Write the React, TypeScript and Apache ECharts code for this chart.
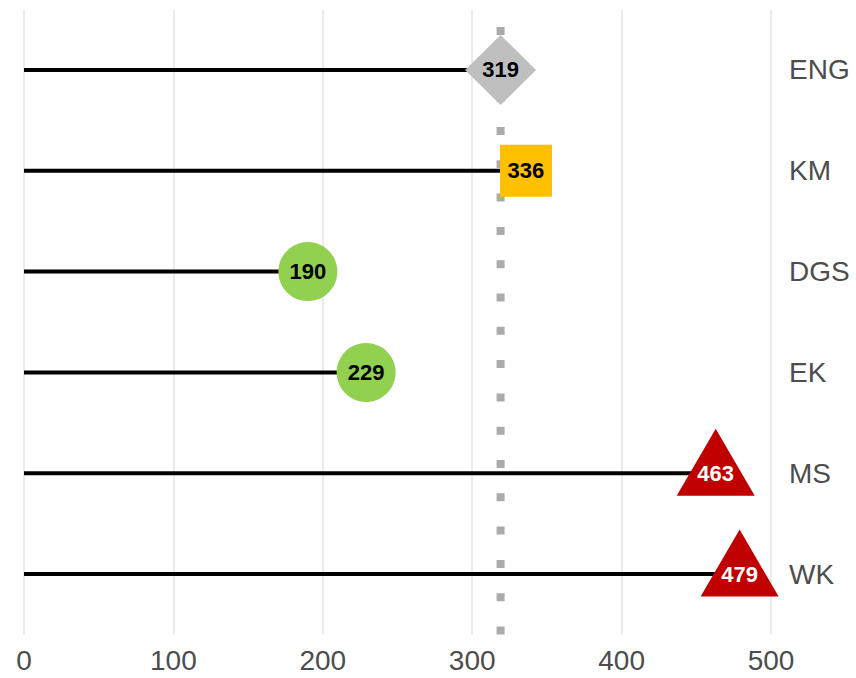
import React, { useEffect, useRef } from "react";
import * as echarts from "echarts";

const categories = ["ENG", "KM", "DGS", "EK", "MS", "WK"];
const values = [319, 336, 190, 229, 463, 479];
const referenceValue = 319;
const xTicks = [0, 100, 200, 300, 400, 500];

// styling per category (not data)
const shapes = ["diamond", "rect", "circle", "circle", "triangle", "triangle"];
const fills = ["#bfbfbf", "#ffc000", "#92d050", "#92d050", "#c00000", "#c00000"];
const labelColors = ["#000000", "#000000", "#000000", "#000000", "#ffffff", "#ffffff"];

const FONT = "'Liberation Sans', Arial, sans-serif";

function symbolSizeFor(shape: string): number | number[] {
  if (shape === "diamond") return [71, 70];
  if (shape === "rect") return [52, 52];
  if (shape === "circle") return 59;
  return [78, 67];
}

export default function App() {
  const ref = useRef<HTMLDivElement>(null);
  useEffect(() => {
    if (!ref.current) return;
    const chart = echarts.init(ref.current, null, { renderer: "svg" });
    const yMin = -0.6;
    const yMax = categories.length - 1 + 0.6;
    const pts = values.map((v, i) => [v, i]);
    chart.setOption({
      animation: false,
      backgroundColor: "#ffffff",
      grid: { left: 24, right: 85, top: 9.5, height: 625, containLabel: false },
      xAxis: {
        type: "value",
        min: xTicks[0],
        max: xTicks[xTicks.length - 1],
        interval: 100,
        axisLine: { show: false },
        axisTick: { show: false },
        axisLabel: { color: "#4d4d4d", fontSize: 28, fontFamily: FONT, margin: 12 },
        splitLine: { show: true, lineStyle: { color: "#ebebeb", width: 2 } },
      },
      yAxis: {
        type: "value",
        inverse: true,
        min: yMin,
        max: yMax,
        position: "right",
        axisLine: { show: false },
        axisTick: { show: false },
        splitLine: { show: false },
        axisLabel: {
          customValues: categories.map((_, i) => i),
          formatter: (v: number) => categories[Math.round(v)] ?? "",
          color: "#4d4d4d",
          fontSize: 28,
          fontFamily: FONT,
          margin: 18,
        },
      },
      series: [
        {
          type: "custom",
          z: 2,
          encode: { x: 0, y: 1 },
          data: pts,
          renderItem: (params: any, api: any) => {
            const v = api.value(0);
            const i = api.value(1);
            const s = api.coord([0, i]);
            const e = api.coord([v, i]);
            return {
              type: "line",
              shape: { x1: s[0], y1: s[1], x2: e[0], y2: e[1] },
              style: { stroke: "#000000", lineWidth: 4 },
            };
          },
        },
        {
          type: "custom",
          z: 3,
          encode: { x: 0, y: 1 },
          data: [[referenceValue, 0]],
          renderItem: (params: any, api: any) => {
            const v = api.value(0);
            const b = api.coord([v, yMax]);
            const t = api.coord([v, yMin]);
            return {
              type: "line",
              shape: { x1: b[0], y1: b[1], x2: t[0], y2: t[1] },
              style: { stroke: "#ababab", lineWidth: 8, lineDash: [8, 25.3], lineCap: "butt" },
            };
          },
        },
        {
          type: "scatter",
          z: 4,
          itemStyle: { opacity: 1 },
          data: pts.map((p, i) => ({
            value: p,
            symbol: shapes[i],
            symbolSize: symbolSizeFor(shapes[i]),
            symbolOffset: shapes[i] === "triangle" ? [0, -11] : [0, 0],
            itemStyle: { color: fills[i], opacity: 1 },
          })),
        },
        {
          type: "scatter",
          z: 5,
          symbolSize: 1,
          itemStyle: { color: "rgba(0,0,0,0)", opacity: 1 },
          data: pts.map((p, i) => ({
            value: p,
            label: {
              show: true,
              position: "inside",
              formatter: String(values[i]),
              color: labelColors[i],
              opacity: 1,
              fontSize: 22,
              fontWeight: "bold",
              fontFamily: FONT,
            },
          })),
        },
      ],
    });
    return () => chart.dispose();
  }, []);
  return (
    <div
      ref={ref}
      style={{ position: "absolute", left: 0, top: 0, width: 856, height: 678 }}
    />
  );
}
